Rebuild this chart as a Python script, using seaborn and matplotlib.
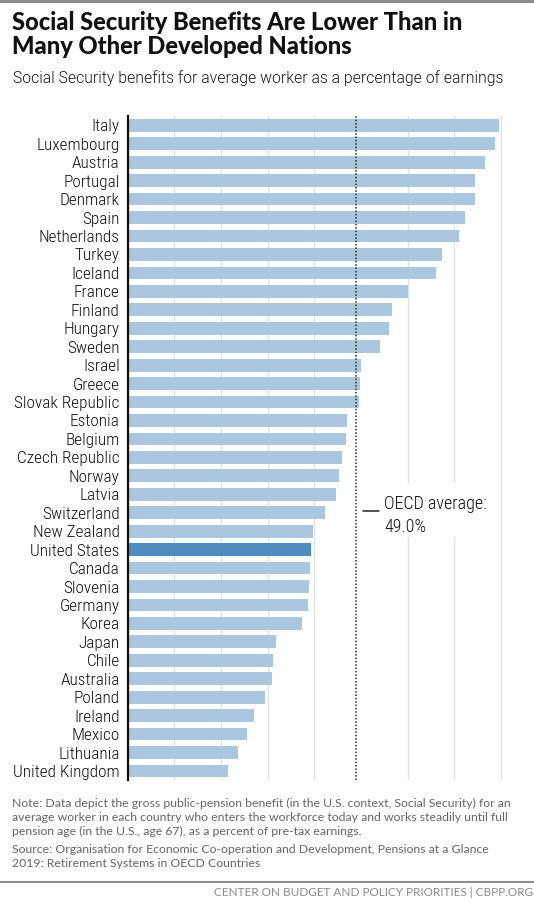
import os
import matplotlib
matplotlib.use("Agg")
import matplotlib.pyplot as plt
import seaborn as sns
import pandas as pd
from matplotlib import font_manager as fm
from matplotlib.patches import Rectangle
from matplotlib.lines import Line2D

# ---------------- data ----------------
countries = [
    "Italy", "Luxembourg", "Austria", "Portugal", "Denmark", "Spain",
    "Netherlands", "Turkey", "Iceland", "France", "Finland", "Hungary",
    "Sweden", "Israel", "Greece", "Slovak Republic", "Estonia", "Belgium",
    "Czech Republic", "Norway", "Latvia", "Switzerland", "New Zealand",
    "United States", "Canada", "Slovenia", "Germany", "Korea", "Japan",
    "Chile", "Australia", "Poland", "Ireland", "Mexico", "Lithuania",
    "United Kingdom",
]
values = [
    79.5, 78.8, 76.5, 74.4, 74.4, 72.3,
    70.9, 67.3, 66.1, 60.1, 56.6, 56.1,
    54.1, 50.0, 49.9, 49.6, 47.1, 46.8,
    45.9, 45.4, 44.7, 42.4, 39.7,
    39.4, 39.0, 38.8, 38.7, 37.3, 31.9,
    31.2, 30.9, 29.4, 27.1, 25.7, 23.6,
    21.6,
]
highlight = "United States"
oecd_average = 49.0
grid_ticks = [10, 20, 30, 40, 60, 70, 80]

title_lines = ["Social Security Benefits Are Lower Than in",
               "Many Other Developed Nations"]
subtitle = "Social Security benefits for average worker as a percentage of earnings"
note_lines = [
    "Note: Data depict the gross public-pension benefit (in the U.S. context, Social Security) for an",
    "average worker in each country who enters the workforce today and works steadily until full",
    "pension age (in the U.S., age 67), as a percent of pre-tax earnings.",
]
source_lines = [
    "Source: Organisation for Economic Co-operation and Development, Pensions at a Glance",
    "2019: Retirement Systems in OECD Countries",
]
footer = "CENTER ON BUDGET AND POLICY PRIORITIES | CBPP.ORG"
avg_label = "OECD average:"

# ---------------- style ----------------
BAR = "#a9c8df"
BAR_HI = "#4f8dc0"
GRID = "#e2e2e2"

sns.set_theme(style="white")
plt.rcParams["font.family"] = ["Lato", "DejaVu Sans"]


def find_font(prefs):
    files = [f.fname for f in fm.fontManager.ttflist]
    for p in prefs:
        for fn in files:
            if os.path.basename(fn).lower().startswith(p):
                return fn
    return None


cond_path = find_font(["robotocondensed-light.", "robotocondensed-regular",
                       "liberationsansnarrow-regular", "dejavusanscondensed."])
cond_fp = fm.FontProperties(fname=cond_path) if cond_path else fm.FontProperties(family="Roboto")
light_path = find_font(["roboto-light.", "lato-light.", "opensans-light."])
light_fp = fm.FontProperties(fname=light_path) if light_path else fm.FontProperties(family="Roboto", weight="light")
bold_path = find_font(["lato-heavy.", "lato-black.", "lato-bold."])
bold_fp = fm.FontProperties(fname=bold_path) if bold_path else fm.FontProperties(family="Lato", weight="bold")

W, H = 534, 900
fig = plt.figure(figsize=(W / 100, H / 100), dpi=100)
fig.patch.set_facecolor("white")


def fx(px):
    return px / W


def fy(py):
    return 1 - py / H


x0, top, bottom = 127.5, 116.1, 780.2
xmax = 80.3
ppu = (501.0 - x0) / 80.0
ax = fig.add_axes([fx(x0), fy(bottom), (xmax * ppu) / W, (bottom - top) / H])

df = pd.DataFrame({"country": countries, "value": values})
palette = {c: (BAR_HI if c == highlight else BAR) for c in countries}
sns.barplot(data=df, x="value", y="country", hue="country", palette=palette,
            legend=False, orient="h", width=0.69, saturation=1, ax=ax)
for p in ax.patches:
    p.set_zorder(2)
    p.set_edgecolor("none")

ax.set_xlim(0, xmax)
ax.set_xticks(grid_ticks)
ax.set_xticklabels([])
ax.tick_params(axis="x", length=0)
ax.tick_params(axis="y", length=0, pad=5.6, colors="#111111")
ax.grid(axis="x", color=GRID, lw=1.0)
ax.grid(axis="y", visible=False)
ax.set_axisbelow(True)
for s in ["top", "right", "bottom"]:
    ax.spines[s].set_visible(False)
ax.spines["left"].set_color("#111111")
ax.spines["left"].set_linewidth(1.6)
ax.spines["left"].set_zorder(5)
ax.set_xlabel("")
ax.set_ylabel("")

ax.axvline(oecd_average, color="#2a2a2a", lw=1.1, ls=(0, (1, 1.2)), zorder=4)

# white box behind the average label (hides gridlines)
box = Rectangle((fx(359.5), fy(537)), (497 - 359.5) / W, (537 - 483) / H,
                transform=fig.transFigure, facecolor="white", edgecolor="none",
                zorder=1.5)
ax.add_patch(box)
ax.set_xlim(0, xmax)
ax.set_ylim(len(countries) - 0.5, -0.5)

fig.canvas.draw()
r = fig.canvas.get_renderer()


def fit(t, target):
    w = t.get_window_extent(r).width
    t.set_fontsize(t.get_fontsize() * target / w)
    return t.get_fontsize()


# category labels
probe = fig.text(0, 0, "United Kingdom", fontproperties=cond_fp, fontsize=12)
lab_size = min(fit(probe, 107), 13.5)
probe.remove()
for lbl in ax.get_yticklabels():
    lbl.set_fontproperties(cond_fp)
    lbl.set_fontsize(lab_size)
    lbl.set_color("#111111")

# OECD average annotation
fig.add_artist(Line2D([fx(362.7), fx(378.7)], [fy(510.7), fy(510.7)],
                      transform=fig.transFigure, color="#222222", lw=1.1))
ta = fig.text(fx(384), fy(509.3), avg_label, fontproperties=cond_fp,
              fontsize=lab_size, color="#111111", va="baseline")
avg_size = min(fit(ta, 103), 14)
fig.text(fx(384), fy(531.7), f"{oecd_average:.1f}%", fontproperties=cond_fp,
         fontsize=avg_size, color="#111111", va="baseline")

# title
t1 = fig.text(fx(12.5), fy(30), title_lines[0], fontproperties=bold_fp, fontsize=16,
              color="#111111", va="baseline")
tsize = fit(t1, 452)
fig.text(fx(12.5), fy(54.3), title_lines[1], fontproperties=bold_fp, fontsize=tsize,
         color="#111111", va="baseline")

st = fig.text(fx(12.6), fy(83), subtitle, fontproperties=light_fp, fontsize=12,
              color="#1a1a1a", va="baseline")
fit(st, 487)

# notes
n0 = fig.text(fx(12.4), fy(806.7), note_lines[0], fontsize=9, color="#666666",
              va="baseline")
nsize = fit(n0, 501)
for line, yb in zip(note_lines[1:], [820.7, 834.7]):
    fig.text(fx(12.4), fy(yb), line, fontsize=nsize, color="#666666", va="baseline")
for line, yb in zip(source_lines, [853.3, 867.3]):
    fig.text(fx(12.4), fy(yb), line, fontsize=nsize, color="#666666", va="baseline")

# footer
fig.add_artist(Line2D([0, 1], [fy(881.7), fy(881.7)], transform=fig.transFigure,
                      color="#8c8c8c", lw=1.5))
fig.add_artist(Rectangle((0, fy(2.7)), 1, 2.7 / H, transform=fig.transFigure,
                         facecolor="#8c8c8c", edgecolor="none"))
ft = fig.text(fx(532.5), fy(895.7), footer, fontsize=7.5, color="#8a8a8a",
              ha="right", va="baseline")
fit(ft, 321)

fig.savefig("out.png", dpi=100)
